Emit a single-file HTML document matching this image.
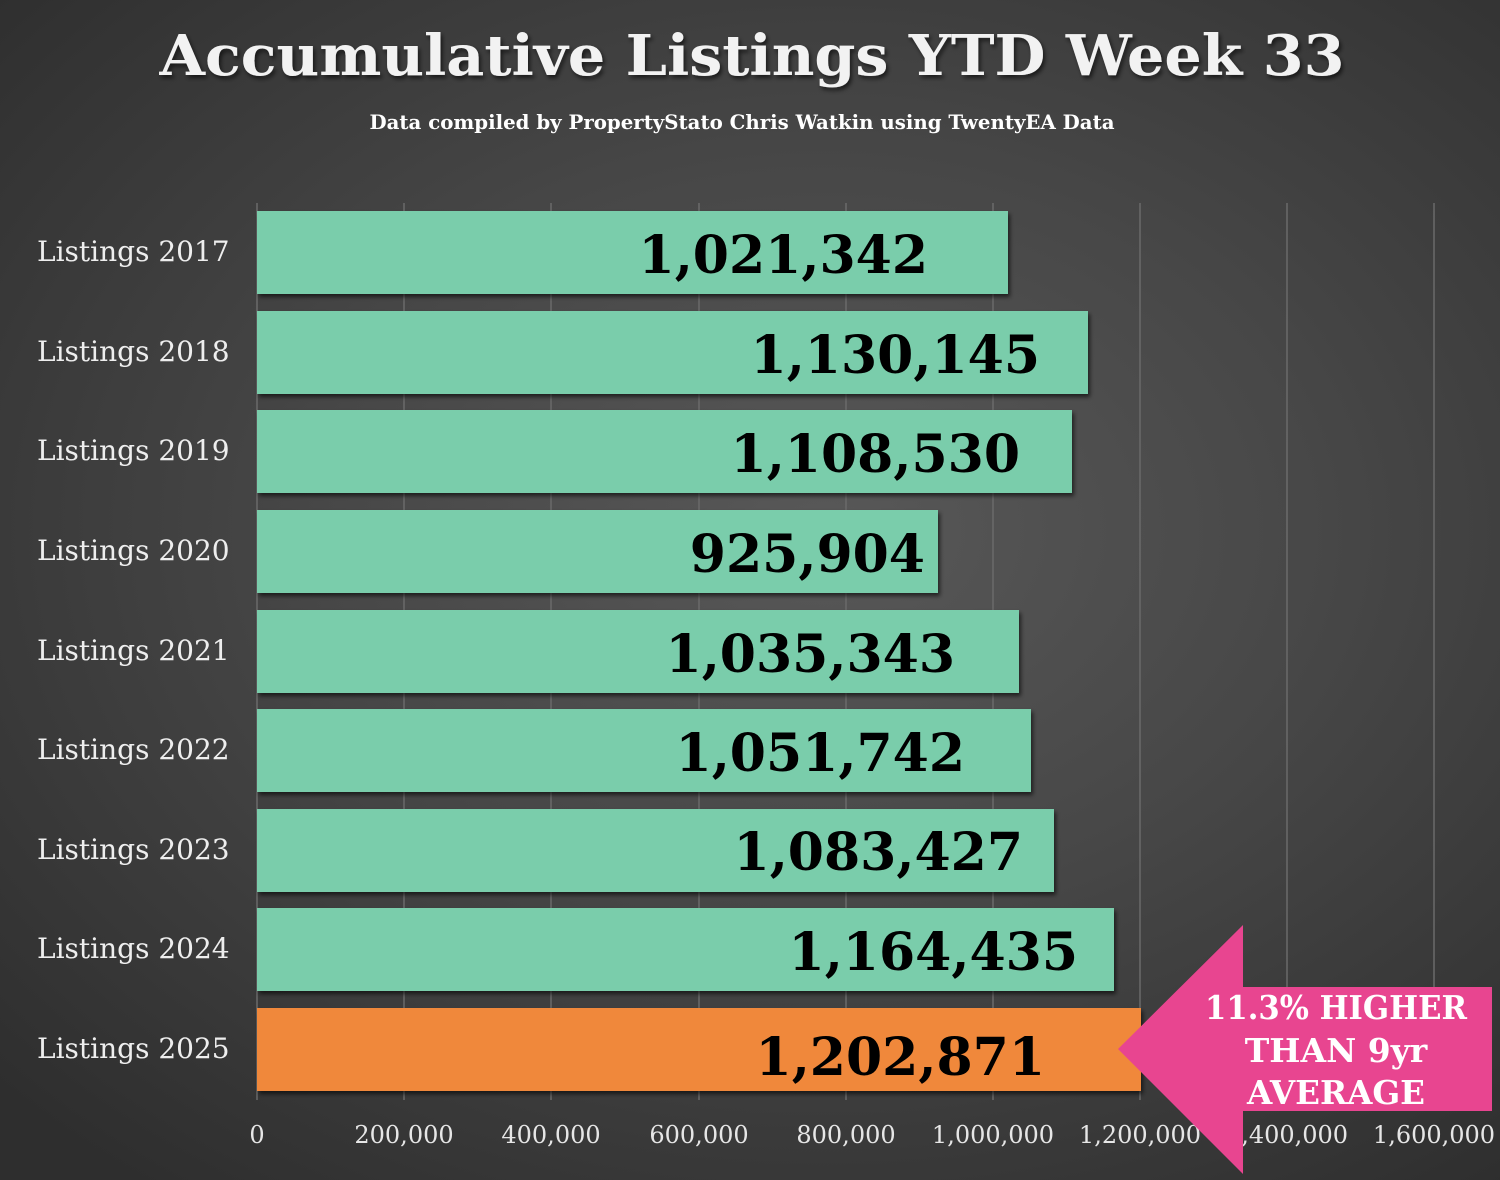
<!DOCTYPE html>
<html><head><meta charset="utf-8"><style>
html,body{margin:0;padding:0;}
body{width:1500px;height:1180px;overflow:hidden;background:radial-gradient(ellipse 75% 70% at 55% 45%,#585858 0%,#474747 45%,#2e2e2e 100%);}
svg{position:absolute;left:0;top:0;}
text{font-family:"DejaVu Serif","Liberation Serif",serif;}
</style></head><body>
<svg width="1500" height="1180" viewBox="0 0 1500 1180">
<defs><filter id="sh" x="-5%" y="-5%" width="110%" height="120%"><feDropShadow dx="2" dy="3" stdDeviation="2" flood-color="#000" flood-opacity="0.6"/></filter></defs>
<text x="752" y="75" text-anchor="middle" font-size="56" font-weight="bold" fill="#f2f2f2" filter="url(#sh)" textLength="1185" lengthAdjust="spacingAndGlyphs">Accumulative Listings YTD Week 33</text>
<text x="742" y="129" text-anchor="middle" font-size="20" font-weight="bold" fill="#fff" textLength="745" lengthAdjust="spacingAndGlyphs">Data compiled by PropertyStato Chris Watkin using TwentyEA Data</text>
<g stroke="#6a6a6a" stroke-width="1.5">
<line x1="257" y1="203" x2="257" y2="1100"/>
<line x1="404" y1="203" x2="404" y2="1100"/><line x1="551" y1="203" x2="551" y2="1100"/>
<line x1="699" y1="203" x2="699" y2="1100"/><line x1="846" y1="203" x2="846" y2="1100"/>
<line x1="993" y1="203" x2="993" y2="1100"/><line x1="1140" y1="203" x2="1140" y2="1100"/>
<line x1="1287" y1="203" x2="1287" y2="1100"/><line x1="1434" y1="203" x2="1434" y2="1100"/>
</g>
<g filter="url(#sh)">
<rect x="257" y="211" width="751" height="83" fill="#7acdab"/>
<rect x="257" y="311" width="831" height="83" fill="#7acdab"/>
<rect x="257" y="410" width="815" height="83" fill="#7acdab"/>
<rect x="257" y="510" width="681" height="83" fill="#7acdab"/>
<rect x="257" y="610" width="762" height="83" fill="#7acdab"/>
<rect x="257" y="709" width="774" height="83" fill="#7acdab"/>
<rect x="257" y="809" width="797" height="83" fill="#7acdab"/>
<rect x="257" y="908" width="857" height="83" fill="#7acdab"/>
<rect x="257" y="1008" width="884" height="83" fill="#f0883b"/>
</g>
<g font-size="52" font-weight="bold" fill="#000" text-anchor="end">
<text x="928" y="273">1,021,342</text>
<text x="1040" y="373">1,130,145</text>
<text x="1020" y="472">1,108,530</text>
<text x="925" y="572">925,904</text>
<text x="955" y="672">1,035,343</text>
<text x="965" y="771">1,051,742</text>
<text x="1023" y="870">1,083,427</text>
<text x="1078" y="970">1,164,435</text>
<text x="1045" y="1075">1,202,871</text>
</g>
<g font-size="28" fill="#eee" text-anchor="start">
<text x="37" y="261">Listings 2017</text>
<text x="37" y="361">Listings 2018</text>
<text x="37" y="460">Listings 2019</text>
<text x="37" y="560">Listings 2020</text>
<text x="37" y="660">Listings 2021</text>
<text x="37" y="759">Listings 2022</text>
<text x="37" y="859">Listings 2023</text>
<text x="37" y="958">Listings 2024</text>
<text x="37" y="1058">Listings 2025</text>
</g>
<g font-size="24" fill="#e6e6e6" text-anchor="middle">
<text x="257" y="1143">0</text><text x="404" y="1143">200,000</text><text x="551" y="1143">400,000</text>
<text x="699" y="1143">600,000</text><text x="846" y="1143">800,000</text><text x="993" y="1143">1,000,000</text>
<text x="1140" y="1143">1,200,000</text><text x="1287" y="1143">1,400,000</text><text x="1434" y="1143">1,600,000</text>
</g>
<polygon points="1118,1049 1243,925 1243,987 1492,987 1492,1111 1243,1111 1243,1174" fill="#e84590"/>
<g font-size="33" font-weight="bold" fill="#fff" text-anchor="middle">
<text x="1336" y="1019" textLength="262" lengthAdjust="spacingAndGlyphs">11.3% HIGHER</text>
<text x="1336" y="1062">THAN 9yr</text>
<text x="1336" y="1104" textLength="178" lengthAdjust="spacingAndGlyphs">AVERAGE</text>
</g>
</svg>
</body></html>
